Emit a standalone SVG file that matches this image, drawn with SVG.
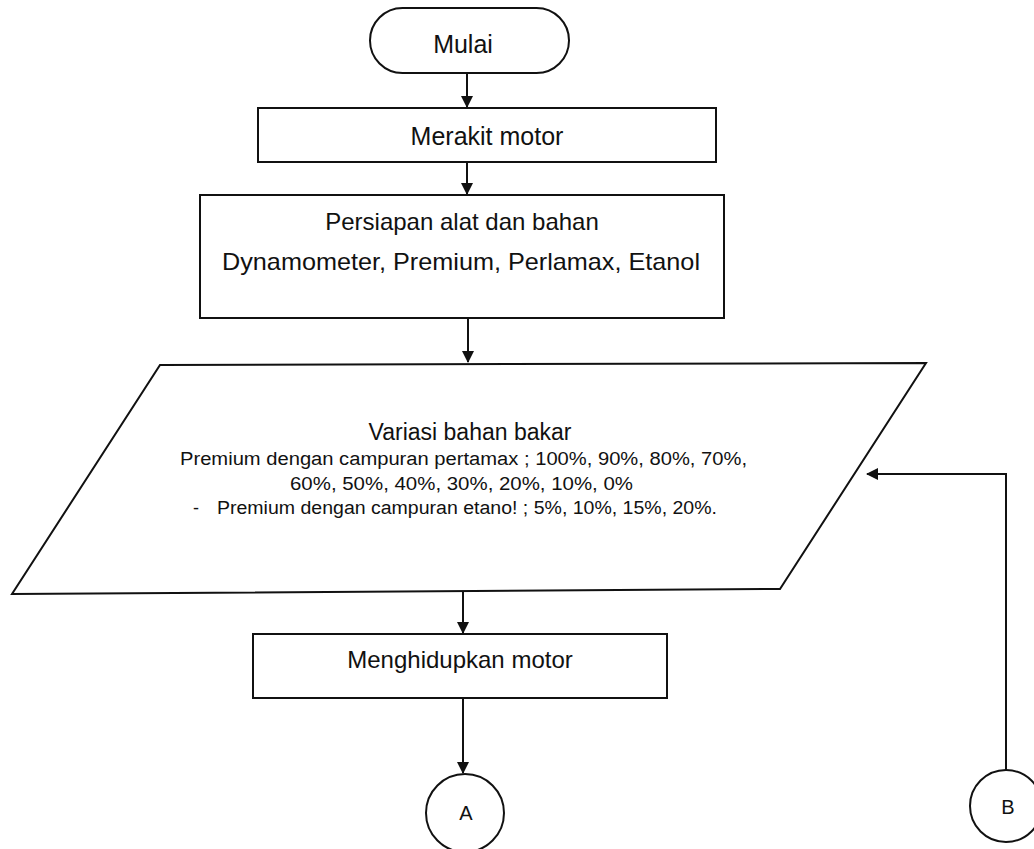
<svg xmlns="http://www.w3.org/2000/svg" width="1034" height="849" viewBox="0 0 1034 849">
<style>
.s{fill:#fff;stroke:#111;stroke-width:2}
.t{font-family:"Liberation Sans",Arial,sans-serif;fill:#111}
.c{fill:none;stroke:#111;stroke-width:2}
</style>
<defs>
<marker id="ah" markerWidth="12" markerHeight="12" refX="11" refY="6" orient="auto" markerUnits="userSpaceOnUse">
<path d="M0,0 L12,6 L0,12 Z" fill="#111"/>
</marker>
</defs>
<rect width="1034" height="849" fill="#fff"/>
<g id="connectors">
<line class="c" x1="467" y1="73" x2="467" y2="107" marker-end="url(#ah)"/>
<line class="c" x1="467" y1="162" x2="467" y2="194" marker-end="url(#ah)"/>
<line class="c" x1="468" y1="318" x2="468" y2="362" marker-end="url(#ah)"/>
<line class="c" x1="463" y1="592" x2="463" y2="633" marker-end="url(#ah)"/>
<line class="c" x1="463" y1="698" x2="463" y2="773" marker-end="url(#ah)"/>
<polyline class="c" points="1006,770 1006,474 867,474" marker-end="url(#ah)"/>
</g>
<g id="mulai">
<rect class="s" x="370" y="8" width="199" height="65" rx="32.5"/>
<text class="t" x="463" y="53" font-size="25" text-anchor="middle">Mulai</text>
</g>
<g id="merakit">
<rect class="s" x="258" y="108" width="458" height="54"/>
<text class="t" x="487" y="145" font-size="25" text-anchor="middle">Merakit motor</text>
</g>
<g id="persiapan">
<rect class="s" x="200" y="195" width="524" height="123"/>
<text class="t" x="462" y="230" font-size="24" text-anchor="middle">Persiapan alat dan bahan</text>
<text class="t" x="461" y="270" font-size="24" text-anchor="middle" textLength="478" lengthAdjust="spacingAndGlyphs">Dynamometer, Premium, Perlamax, Etanol</text>
</g>
<g id="variasi">
<polygon class="s" points="160,365 926,363 780,589 12,594"/>
<text class="t" x="470" y="440" font-size="23" text-anchor="middle">Variasi bahan bakar</text>
<text class="t" x="180" y="465" font-size="18" textLength="567" lengthAdjust="spacingAndGlyphs">Premium dengan campuran pertamax ; 100%, 90%, 80%, 70%,</text>
<text class="t" x="290" y="490" font-size="18" textLength="343" lengthAdjust="spacingAndGlyphs">60%, 50%, 40%, 30%, 20%, 10%, 0%</text>
<text class="t" x="193" y="514" font-size="18">-</text>
<text class="t" x="217" y="514" font-size="18" textLength="500" lengthAdjust="spacingAndGlyphs">Premium dengan campuran etano! ; 5%, 10%, 15%, 20%.</text>
</g>
<g id="menghidupkan">
<rect class="s" x="253" y="634" width="414" height="64"/>
<text class="t" x="460" y="668" font-size="24" text-anchor="middle">Menghidupkan motor</text>
</g>
<g id="A">
<circle class="s" cx="465" cy="813" r="39"/>
<text class="t" x="466" y="820" font-size="20" text-anchor="middle">A</text>
</g>
<g id="B">
<circle class="s" cx="1006" cy="806" r="36"/>
<text class="t" x="1008" y="814" font-size="20" text-anchor="middle">B</text>
</g>
</svg>
